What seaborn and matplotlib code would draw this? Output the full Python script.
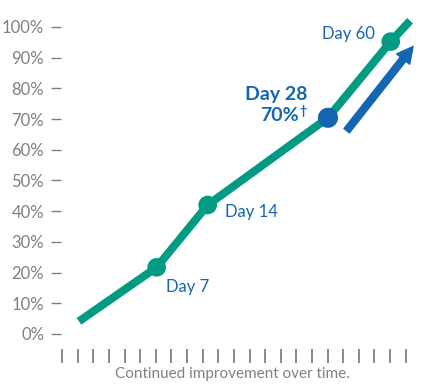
import numpy as np
import pandas as pd
import matplotlib.pyplot as plt
import seaborn as sns

sns.set_theme(style="white")
plt.rcParams["font.family"] = ["Lato", "DejaVu Sans"]

# courbe (x en unites de graduation, y en %)
courbe_x = [1.07, 6.05, 9.32, 17.03, 21.05, 22.29]
courbe_y = [4.1, 21.7, 42.0, 70.4, 95.2, 102.0]

# jalons
jalons = ["Day 7", "Day 14", "Day 60"]
jalons_x = [6.05, 9.32, 21.05]
jalons_y = [21.7, 42.0, 95.2]

# point mis en avant
j28_x, j28_y = 17.03, 70.4

# fleche
fleche_depart = (18.23, 66.2)
fleche_arrivee = (22.48, 93.6)

y_ticks = list(range(0, 101, 10))
y_labels = [f"{v}%" for v in y_ticks]
x_ticks = list(range(23))

TEAL = "#009B82"
BLEU = "#1466B2"
GRIS = "#808080"

fig = plt.figure(figsize=(4.26, 3.88), dpi=100)
ax = fig.add_axes([61 / 426, 39 / 388, 355 / 426, 339 / 388])

df = pd.DataFrame({"x": courbe_x, "y": courbe_y})
sns.lineplot(data=df, x="x", y="y", ax=ax, color=TEAL, lw=5.8,
             solid_capstyle="butt", sort=False, clip_on=False)
sns.scatterplot(x=jalons_x, y=jalons_y, ax=ax, color=TEAL, s=180,
                edgecolor="none", zorder=3, clip_on=False)
sns.scatterplot(x=[j28_x], y=[j28_y], ax=ax, color=BLEU, s=210,
                edgecolor="none", zorder=4, clip_on=False)

ax.annotate("", xy=fleche_arrivee, xytext=fleche_depart,
            arrowprops=dict(arrowstyle="simple,head_length=1.15,head_width=1.2,tail_width=0.5",
                            mutation_scale=10, color=BLEU, shrinkA=0, shrinkB=0),
            annotation_clip=False)

# textes
ax.text(jalons_x[0] + 0.6, jalons_y[0] - 6.5, jalons[0], color=BLEU,
        fontsize=12, ha="left", va="center")
ax.text(jalons_x[1] + 1.1, jalons_y[1] - 2.3, jalons[1], color=BLEU,
        fontsize=12, ha="left", va="center")
ax.text(jalons_x[2] - 2.7, jalons_y[2] + 2.5, jalons[2], color=BLEU,
        fontsize=12, ha="center", va="center")
ax.text(j28_x - 1.3, j28_y + 7.6, "Day 28", color=BLEU, fontsize=14,
        fontweight="bold", ha="right", va="center")
ax.text(j28_x - 1.85, j28_y + 0.6, "70%", color=BLEU, fontsize=14,
        fontweight="bold", ha="right", va="center")
ax.text(j28_x - 1.8, j28_y + 2.2, "\u2020", color=BLEU, fontsize=9,
        fontweight="bold", ha="left", va="center")

ax.set_xlim(-0.08, 22.67)
ax.set_ylim(-4.9, 105.5)
ax.set_yticks(y_ticks)
ax.set_yticklabels(y_labels)
ax.set_xticks(x_ticks)
ax.set_xticklabels([])
ax.set_xlabel("Continued improvement over time.", color=GRIS, fontsize=11)
ax.xaxis.set_label_coords(0.482, -0.054)
ax.set_ylabel("")
ax.tick_params(axis="y", direction="out", length=7.2, width=1, color=GRIS,
               labelcolor=GRIS, labelsize=12, pad=5, left=True)
ax.tick_params(axis="x", direction="out", length=10, width=1.3, color=GRIS,
               bottom=True)
for s in ax.spines.values():
    s.set_visible(False)

fig.savefig("out.png", dpi=100)
